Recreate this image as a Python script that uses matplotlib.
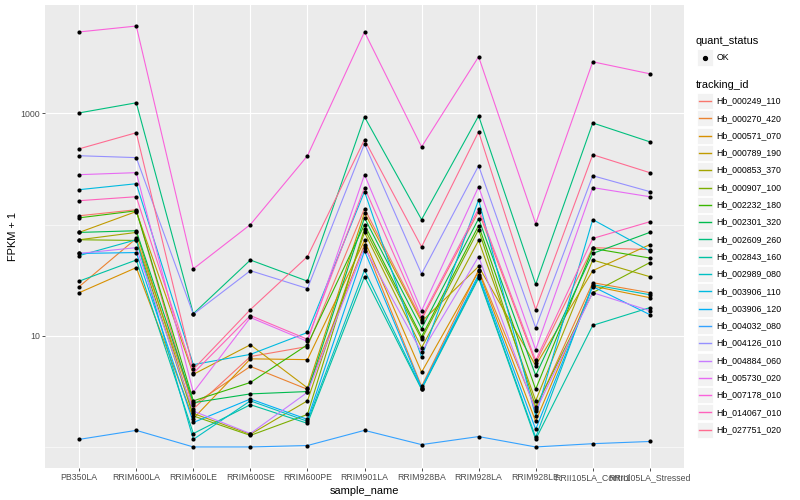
import matplotlib

matplotlib.use("Agg")
import matplotlib.pyplot as plt  # noqa: E402
from matplotlib.lines import Line2D  # noqa: E402
from matplotlib.patches import Rectangle  # noqa: E402
from matplotlib.ticker import FixedLocator, NullFormatter  # noqa: E402

plt.rcParams["font.family"] = ["Liberation Sans", "DejaVu Sans"]

# FPKM + 1 per sample
samples = ["PB350LA", "RRIM600LA", "RRIM600LE", "RRIM600SE", "RRIM600PE",
           "RRIM901LA", "RRIM928BA", "RRIM928LA", "RRIM928LE",
           "RRII105LA_Control", "RRII105LA_Stressed"]

hb_000249_110 = [120, 136, 2.2, 6.5, 8.0, 139, 14, 131, 5.7, 62, 59.5]
hb_000270_420 = [27.7, 75, 2.4, 5.3, 3.3, 66, 3.5, 39, 2.2, 30, 24.4]
hb_000571_070 = [24.4, 41, 1.8, 6.2, 6.1, 72, 4.7, 38, 1.7, 28, 22]
hb_000789_190 = [85, 131, 4.5, 8.3, 3.4, 128, 13.4, 42, 5.4, 38.5, 66]
hb_000853_370 = [73, 85, 2.0, 1.3, 2.6, 85, 7.8, 72, 2.6, 48, 34]
hb_000907_100 = [73, 72, 1.9, 1.27, 1.96, 92, 9.3, 90, 2.3, 24.4, 45.5]
hb_002232_180 = [115, 133, 2.6, 3.8, 8.3, 100, 9.8, 98, 3.3, 61, 50]
hb_002301_320 = [85, 88, 2.5, 3.0, 3.15, 115, 11.6, 113, 4.4, 55, 85]
hb_002609_260 = [1010, 1245, 15.8, 48, 31, 930, 111, 950, 29, 820, 555]
hb_002843_160 = [31, 48, 1.32, 2.4, 1.63, 34, 3.3, 33, 1.17, 12.4, 17.9]
hb_002989_080 = [52.6, 73, 1.17, 2.6, 1.7, 39, 3.35, 34, 1.22, 28.8, 23.4]
hb_003906_110 = [206, 233, 5.5, 6.8, 10.7, 198, 6.4, 167, 1.9, 111, 58]
hb_003906_120 = [55, 56, 1.66, 2.7, 1.77, 58, 3.4, 35.5, 1.44, 27.7, 15.5]
hb_004032_080 = [1.17, 1.41, 1.0, 1.0, 1.03, 1.41, 1.05, 1.24, 1.0, 1.07, 1.12]
hb_004126_010 = [416, 400, 15.6, 38.5, 26.6, 533, 36, 338, 11.8, 275, 198]
hb_004884_060 = [55, 62, 2.1, 1.32, 3.1, 62, 7.1, 51.5, 2.1, 24.4, 16.8]
hb_005730_020 = [281, 293, 3.1, 14.6, 8.9, 281, 16.8, 219, 7.5, 215, 178]
hb_007178_010 = [5400, 6100, 40, 100, 415, 5400, 500, 3230, 102, 2910, 2270]
hb_014067_010 = [164, 178, 4.6, 15.2, 9.3, 215, 14.6, 139, 6.0, 75, 106]
hb_027751_020 = [480, 670, 5.0, 17.2, 51.5, 580, 63, 683, 17.2, 425, 293]

tracking_ids = ["Hb_000249_110", "Hb_000270_420", "Hb_000571_070", "Hb_000789_190",
                "Hb_000853_370", "Hb_000907_100", "Hb_002232_180", "Hb_002301_320",
                "Hb_002609_260", "Hb_002843_160", "Hb_002989_080", "Hb_003906_110",
                "Hb_003906_120", "Hb_004032_080", "Hb_004126_010", "Hb_004884_060",
                "Hb_005730_020", "Hb_007178_010", "Hb_014067_010", "Hb_027751_020"]
series = [hb_000249_110, hb_000270_420, hb_000571_070, hb_000789_190, hb_000853_370,
          hb_000907_100, hb_002232_180, hb_002301_320, hb_002609_260, hb_002843_160,
          hb_002989_080, hb_003906_110, hb_003906_120, hb_004032_080, hb_004126_010,
          hb_004884_060, hb_005730_020, hb_007178_010, hb_014067_010, hb_027751_020]

# ggplot2 default hue palette for 20 levels
colors = ["#F8766D", "#EA8331", "#D89000", "#C09B00", "#A3A500", "#7CAE00", "#39B600",
          "#00BB4E", "#00BF7D", "#00C1A3", "#00BFC4", "#00BAE0", "#00B0F6", "#35A2FF",
          "#9590FF", "#C77CFF", "#E76BF3", "#FA62DB", "#FF62BC", "#FF6C91"]

W, H = 800, 500
fig = plt.figure(figsize=(W / 100, H / 100), dpi=100)
ax = fig.add_axes([45 / W, 32 / H, 639 / W, 463 / H])
ax.set_facecolor("#EBEBEB")
for s in ax.spines.values():
    s.set_visible(False)

xs = range(len(samples))
for vals, col in zip(series, colors):
    ax.plot(xs, vals, color=col, lw=0.8, zorder=2)
for vals in series:
    ax.scatter(xs, vals, s=9, color="black", marker="o", lw=0, zorder=3)

ax.set_yscale("log")
ax.margins(y=0.05)
ax.set_xlim(-0.6, len(samples) - 0.4)
ax.yaxis.set_major_locator(FixedLocator([10, 1000]))
ax.yaxis.set_minor_locator(FixedLocator([1, 100, 10000]))
ax.yaxis.set_minor_formatter(NullFormatter())
ax.set_yticklabels(["10", "1000"])
ax.set_xticks(list(xs))
ax.set_xticklabels(samples)
ax.tick_params(axis="both", which="major", labelsize=6.3, labelcolor="#4D4D4D",
               color="#333333", length=2, width=0.6, pad=1.5)
ax.tick_params(axis="y", which="minor", length=0)
ax.grid(True, which="major", color="white", lw=0.8)
ax.grid(True, which="minor", axis="y", color="white", lw=0.4)
ax.set_axisbelow(True)
ax.set_xlabel("sample_name", fontsize=7.9, labelpad=3)
ax.set_ylabel("FPKM + 1", fontsize=7.9, labelpad=2)


def fx(x, y):
    return x / W, 1 - y / H


# legend drawn by hand to mimic ggplot guide boxes
key_w, step = 16, 17.3
fig.text(*fx(696, 41), "quant_status", fontsize=7.9, va="center", ha="left")
fig.add_artist(Rectangle(fx(697, 65.5), key_w / W, key_w / H, transform=fig.transFigure,
                         facecolor="#F2F2F2", edgecolor="white", lw=0.6, zorder=1))
fig.add_artist(Line2D([705 / W], [1 - 57.5 / H], marker="o", ms=2.8, color="black",
                      lw=0, transform=fig.transFigure, zorder=3))
fig.text(*fx(716.5, 57.5), "OK", fontsize=6.3, va="center", ha="left")

fig.text(*fx(696, 85), "tracking_id", fontsize=7.9, va="center", ha="left")
for i, (tid, col) in enumerate(zip(tracking_ids, colors)):
    yc = 101 + i * step
    fig.add_artist(Rectangle(fx(697, yc + key_w / 2), key_w / W, key_w / H,
                             transform=fig.transFigure, facecolor="#F2F2F2",
                             edgecolor="white", lw=0.6, zorder=1))
    fig.add_artist(Line2D([699 / W, 711 / W], [1 - yc / H] * 2, color=col, lw=1.0,
                          transform=fig.transFigure, zorder=3))
    fig.text(*fx(716.5, yc), tid, fontsize=6.3, va="center", ha="left")

fig.savefig("out.png", dpi=100)
plt.close(fig)
